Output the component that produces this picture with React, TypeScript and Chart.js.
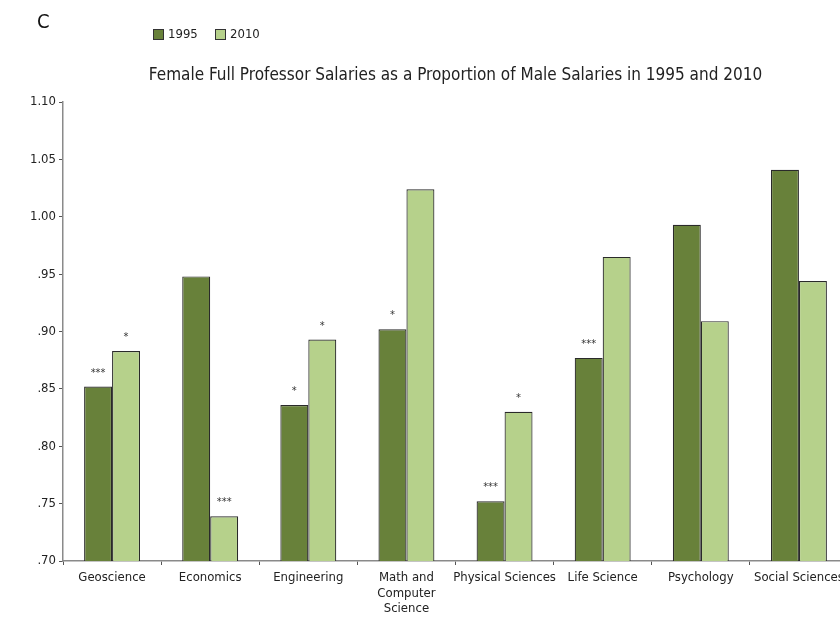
import React, { useEffect, useRef } from "react";
import { Chart, registerables } from "chart.js";

Chart.register(...registerables);

const categories: (string | string[])[] = [
  "Geoscience",
  "Economics",
  "Engineering",
  ["Math and", "Computer", "Science"],
  "Physical Sciences",
  "Life Science",
  "Psychology",
  "Social Sciences",
];
const values1995 = [0.852, 0.948, 0.836, 0.902, 0.752, 0.877, 0.993, 1.041];
const values2010 = [0.883, 0.739, 0.893, 1.024, 0.830, 0.965, 0.909, 0.944];
const sig1995 = ["***", "", "*", "*", "***", "***", "", ""];
const sig2010 = ["*", "***", "*", "", "*", "", "", ""];
const seriesNames = ["1995", "2010"];
const titleText =
  "Female Full Professor Salaries as a Proportion of Male Salaries in 1995 and 2010";
const panelLetter = "C";

const DARK = "#68813a";
const LIGHT = "#b6d18b";
const FONT = "'Liberation Sans Narrow', 'DejaVu Sans Condensed', 'Arial Narrow', sans-serif";

const annotPlugin = {
  id: "annot",
  afterDatasetsDraw(chart: any) {
    const ctx = chart.ctx;
    const sigs = [sig1995, sig2010];
    ctx.save();
    ctx.fillStyle = "#333";
    ctx.font = `11px ${FONT}`;
    ctx.textAlign = "center";
    ctx.textBaseline = "alphabetic";
    sigs.forEach((arr, di) => {
      const meta = chart.getDatasetMeta(di);
      meta.data.forEach((bar: any, i: number) => {
        if (arr[i]) ctx.fillText(arr[i], bar.x, bar.y - 11);
      });
    });
    ctx.restore();
  },
  afterDraw(chart: any) {
    const ctx = chart.ctx;
    const area = chart.chartArea;
    ctx.save();
    // panel letter
    ctx.fillStyle = "#111";
    ctx.font = `20px ${FONT}`;
    ctx.textAlign = "left";
    ctx.textBaseline = "middle";
    ctx.fillText(panelLetter, 37, 23);
    // legend
    ctx.font = `13px ${FONT}`;
    const items = [
      { x: 153, color: DARK, label: seriesNames[0] },
      { x: 215, color: LIGHT, label: seriesNames[1] },
    ];
    items.forEach((it) => {
      ctx.fillStyle = it.color;
      ctx.fillRect(it.x, 29.5, 10, 10);
      ctx.strokeStyle = "#333";
      ctx.lineWidth = 1;
      ctx.strokeRect(it.x + 0.5, 29.5, 10, 10);
      ctx.fillStyle = "#222";
      ctx.textBaseline = "middle";
      ctx.fillText(it.label, it.x + 15, 35);
    });
    // title
    ctx.font = `17px ${FONT}`;
    ctx.textAlign = "center";
    ctx.fillStyle = "#222";
    ctx.fillText(titleText, (area.left + area.right) / 2, 76);
    ctx.restore();
  },
};

export default function App() {
  const ref = useRef<HTMLCanvasElement>(null);
  useEffect(() => {
    const chart = new Chart(ref.current!, {
      type: "bar",
      data: {
        labels: categories,
        datasets: [
          {
            label: seriesNames[0],
            data: values1995,
            backgroundColor: DARK,
            borderColor: "#2a2a2a",
            borderWidth: 1.2,
            categoryPercentage: 0.57,
            barPercentage: 1,
          },
          {
            label: seriesNames[1],
            data: values2010,
            backgroundColor: LIGHT,
            borderColor: "#2a2a2a",
            borderWidth: 1.2,
            categoryPercentage: 0.57,
            barPercentage: 1,
          },
        ],
      },
      options: {
        animation: false,
        responsive: false,
        layout: { padding: { top: 102, right: 12, left: 0, bottom: 0 } },
        plugins: {
          legend: { display: false },
          title: { display: false },
          tooltip: { enabled: false },
        },
        scales: {
          x: {
            afterFit(scale: any) {
              scale.height = 57;
            },
            border: { color: "#8a8a8a", width: 1.5 },
            grid: {
              drawOnChartArea: false,
              drawTicks: true,
              tickLength: 4,
              color: "#555",
              offset: true,
            },
            ticks: {
              color: "#222",
              font: { family: FONT, size: 13 },
              padding: 5,
              maxRotation: 0,
              autoSkip: false,
            },
          },
          y: {
            min: 0.7,
            max: 1.1,
            afterFit(scale: any) {
              scale.width = 63;
            },
            border: { color: "#8a8a8a", width: 1.5 },
            grid: {
              drawOnChartArea: false,
              drawTicks: true,
              tickLength: 4,
              color: "#555",
            },
            ticks: {
              stepSize: 0.05,
              color: "#222",
              font: { family: FONT, size: 13 },
              padding: 3,
              callback: (v: any) => {
                const s = Number(v).toFixed(2);
                return Number(v) < 1 ? s.slice(1) : s;
              },
            },
          },
        },
      },
      plugins: [annotPlugin],
    });
    return () => chart.destroy();
  }, []);
  return (
    <div style={{ position: "fixed", left: 0, top: 0, width: 860, height: 618 }}>
      <canvas ref={ref} width={860} height={618} style={{ width: 860, height: 618 }} />
    </div>
  );
}
